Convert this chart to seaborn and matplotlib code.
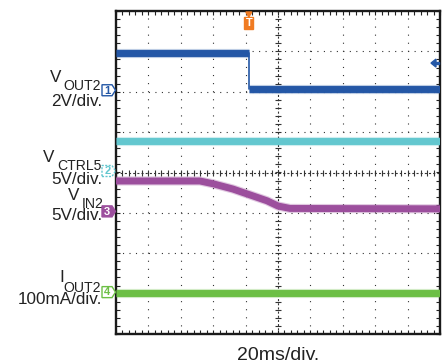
import numpy as np
import pandas as pd
import matplotlib
matplotlib.use("Agg")
import matplotlib.pyplot as plt
import seaborn as sns
from matplotlib.patches import Polygon

# ---- data (screen divisions: x 0..10 div at 20 ms/div, y -4..4 div) ----
vout2_t = [0.0, 4.10, 4.10, 10.0]
vout2_v = [2.96, 2.96, 2.07, 2.07]
vctrl5_t = [0.0, 10.0]
vctrl5_v = [0.78, 0.78]
vin2_t = [0.0, 2.59, 3.0, 3.61, 4.66, 5.0, 5.37, 10.0]
vin2_v = [-0.21, -0.21, -0.28, -0.41, -0.70, -0.83, -0.89, -0.90]
iout2_t = [0.0, 10.0]
iout2_v = [-2.98, -2.98]

channel_nums = ["1", "2", "3", "4"]
channel_refs = [2, 0, -1, -3]
channel_colors = ["#2457a6", "#63c7cf", "#9c4f9d", "#6cbf45"]
channel_names = ["OUT2", "CTRL5", "IN2", "OUT2"]
channel_prefix = ["V", "V", "V", "I"]
channel_scales = ["2V/div.", "5V/div.", "5V/div.", "100mA/div."]
time_scale = "20ms/div."
trigger_t = 4.10
trigger_level = 2.71

W, H, DPI = 442, 364, 100
sns.set_style("white")
plt.rcParams["font.family"] = ["Liberation Sans", "DejaVu Sans"]
plt.rcParams["lines.scale_dashes"] = False

fig = plt.figure(figsize=(W / DPI, H / DPI), dpi=DPI)
AX_L, AX_R, AX_T, AX_B = 116, 440, 11, 334
ax = fig.add_axes([AX_L / W, 1 - AX_B / H, (AX_R - AX_L) / W, (AX_B - AX_T) / H])
ax.set_xlim(0, 10)
ax.set_ylim(-4, 4)
ax.set_facecolor("white")


def fx(px):
    return px / W


def fy(py):
    return 1 - py / H


def level_py(level):
    return AX_T + (4 - level) / 8 * (AX_B - AX_T)


def t_px(t):
    return AX_L + t / 10 * (AX_R - AX_L)


# ---- graticule ----
hx = 6.48 / 100 * 72
vy = 8.075 / 100 * 72
for yv in range(-3, 4):
    if yv == 0:
        continue
    ax.axhline(yv, color="#333333", lw=0.8, linestyle=(0, (0.8, hx - 0.8)), zorder=1)
for xv in range(1, 10):
    if xv == 5:
        continue
    ax.axvline(xv, color="#333333", lw=0.8, linestyle=(0, (0.8, vy - 0.8)), zorder=1)
# center cross with fine ticks
ax.axhline(0, color="#333333", lw=0.8, linestyle=(0, (1.5, 1.5)), zorder=1)
ax.axvline(5, color="#333333", lw=0.8, linestyle=(0, (1.5, 1.5)), zorder=1)
sub_x = np.arange(0, 10.001, 0.2)
sub_y = np.arange(-4, 4.001, 0.2)
ax.plot(sub_x, np.zeros_like(sub_x), ls="none", marker="|", ms=4, mew=0.8, color="#333333", zorder=1)
ax.plot(np.full_like(sub_y, 5), sub_y, ls="none", marker="_", ms=4, mew=0.8, color="#333333", zorder=1)

ax.set_xticks(sub_x)
ax.set_yticks(sub_y)
ax.tick_params(direction="in", length=3, width=0.8, color="#222222",
               top=True, right=True, bottom=True, left=True,
               labelbottom=False, labelleft=False)
for s in ax.spines.values():
    s.set_visible(True)
    s.set_linewidth(1.7)
    s.set_color("#1a1a1a")

# ---- traces ----
rows = []
series = [
    ("1", vout2_t[:2], vout2_v[:2], "1a"),
    ("1", vout2_t[2:], vout2_v[2:], "1b"),
    ("2", vctrl5_t, vctrl5_v, "2"),
    ("3", vin2_t, vin2_v, "3"),
    ("4", iout2_t, iout2_v, "4"),
]
for ch, ts, vs, seg in series:
    for t, v in zip(ts, vs):
        rows.append({"ch": ch, "seg": seg, "t": t, "v": v})
df = pd.DataFrame(rows)
pal = dict(zip(channel_nums, channel_colors))

sns.lineplot(data=df, x="t", y="v", hue="ch", units="seg", estimator=None, sort=False,
             palette=pal, lw=6.6, alpha=0.3, legend=False, ax=ax, zorder=3,
             solid_capstyle="butt")
sns.lineplot(data=df, x="t", y="v", hue="ch", units="seg", estimator=None, sort=False,
             palette=pal, lw=5.0, legend=False, ax=ax, zorder=4,
             solid_capstyle="butt")
step_df = pd.DataFrame({"t": vout2_t[1:3], "v": vout2_v[1:3]})
sns.lineplot(data=step_df, x="t", y="v", color=channel_colors[0], lw=1.2,
             estimator=None, sort=False, ax=ax, zorder=4)
ax.set_xlim(0, 10)
ax.set_ylim(-4, 4)
ax.set_xlabel("")
ax.set_ylabel("")

# ---- channel markers ----
for num, ref, col in zip(channel_nums, channel_refs, channel_colors):
    py = level_py(ref) - 1.5
    x0, x1, xt, h = 102, 112, 115.5, 5.5
    verts = [(fx(x0), fy(py + h)), (fx(x1), fy(py + h)), (fx(xt), fy(py)),
             (fx(x1), fy(py - h)), (fx(x0), fy(py - h))]
    filled = num == "3"
    poly = Polygon(verts, closed=True, transform=fig.transFigure,
                   facecolor=col if filled else "white", edgecolor=col, lw=1.0,
                   linestyle=(0, (1.5, 1)) if num == "2" else "-", zorder=5)
    fig.add_artist(poly)
    fig.text(fx(107.3), fy(py + 0.3), num, ha="center", va="center", fontsize=8,
             fontweight="bold", color="white" if filled else col, zorder=8)

# ---- channel labels ----
label_pos = [
    # (prefix x, prefix baseline, sub x, sub baseline, scale right x, scale baseline)
    (50, 82.5, 63, 90, 102, 106),
    (43, 162, 57, 170, 102, 184.5),
    (68, 200, 82, 207.5, 102, 220),
    (59, 282, 63, 292.5, 102, 304),
]
for pre, name, scale, (px, pb, sx, sb, rx, rb) in zip(channel_prefix, channel_names,
                                                      channel_scales, label_pos):
    fig.text(fx(px), fy(pb), pre, ha="left", va="baseline", fontsize=12.3, color="#222222")
    fig.text(fx(sx), fy(sb), name, ha="left", va="baseline", fontsize=10.1, color="#222222")
    fig.text(fx(rx), fy(rb), scale, ha="right", va="baseline", fontsize=12.3, color="#222222")

fig.text(fx(278.5), fy(359.5), time_scale, ha="center", va="baseline", fontsize=14,
         color="#222222")

# ---- trigger position marker ----
tx = t_px(trigger_t)
orange = "#f07b22"
fig.add_artist(Polygon([(fx(tx - 3), fy(12)), (fx(tx + 3), fy(12)), (fx(tx), fy(17))],
                       closed=True, transform=fig.transFigure, facecolor=orange,
                       edgecolor=orange, zorder=6))
fig.add_artist(Polygon([(fx(tx - 4.5), fy(17)), (fx(tx + 4.5), fy(17)), (fx(tx + 4.5), fy(29)),
                        (fx(tx - 4.5), fy(29))], closed=True, transform=fig.transFigure,
                       facecolor=orange, edgecolor=orange, zorder=6))
fig.text(fx(tx), fy(23.3), "T", ha="center", va="center", fontsize=8, color="white",
         fontweight="bold", zorder=8)

# ---- trigger level marker ----
ly = level_py(trigger_level)
fig.add_artist(Polygon([(fx(431), fy(ly)), (fx(436), fy(ly - 4)), (fx(436), fy(ly + 4))],
                       closed=True, transform=fig.transFigure, facecolor=channel_colors[0],
                       edgecolor=channel_colors[0], zorder=6))
fig.add_artist(Polygon([(fx(436), fy(ly - 0.7)), (fx(439), fy(ly - 0.7)), (fx(439), fy(ly + 0.7)),
                        (fx(436), fy(ly + 0.7))], closed=True, transform=fig.transFigure,
                       facecolor=channel_colors[0], edgecolor=channel_colors[0], zorder=6))

fig.savefig("out.png", dpi=DPI)
